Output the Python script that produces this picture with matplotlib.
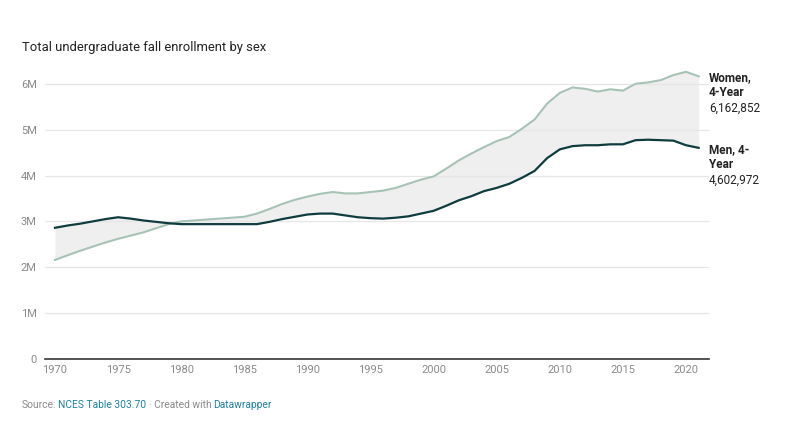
import matplotlib
matplotlib.use("Agg")
import matplotlib.pyplot as plt
from matplotlib.ticker import FuncFormatter

plt.rcParams['font.family'] = ['Roboto', 'DejaVu Sans']

years = list(range(1970, 2022))

# millions
women = [2.16, 2.26, 2.36, 2.45, 2.54, 2.62, 2.69, 2.76, 2.85, 2.94,
         3.00, 3.02, 3.04, 3.06, 3.08, 3.10, 3.17, 3.27, 3.38, 3.47,
         3.54, 3.60, 3.64, 3.61, 3.61, 3.64, 3.67, 3.73, 3.82, 3.91,
         3.98, 4.15, 4.33, 4.48, 4.62, 4.75, 4.84, 5.02, 5.22, 5.57,
         5.80, 5.92, 5.89, 5.83, 5.88, 5.85, 6.00, 6.03, 6.08, 6.19,
         6.26, 6.162852]
men = [2.86, 2.91, 2.95, 3.00, 3.05, 3.09, 3.06, 3.02, 2.99, 2.96,
       2.94, 2.94, 2.94, 2.94, 2.94, 2.94, 2.94, 2.99, 3.05, 3.10,
       3.15, 3.17, 3.17, 3.13, 3.09, 3.07, 3.06, 3.08, 3.11, 3.17,
       3.23, 3.34, 3.46, 3.55, 3.66, 3.73, 3.82, 3.95, 4.10, 4.38,
       4.57, 4.64, 4.66, 4.66, 4.68, 4.68, 4.77, 4.78, 4.77, 4.76,
       4.66, 4.602972]

women = [v * 1e6 for v in women]
men = [v * 1e6 for v in men]

xticks = list(range(1970, 2021, 5))
yticks = [0, 1e6, 2e6, 3e6, 4e6, 5e6, 6e6]

c_women = '#a7c3b6'
c_men = '#0f3d3f'
c_grey = '#8a8a8a'
c_link = '#1d81a2'

fig = plt.figure(figsize=(8, 4.42), dpi=100)
ax = fig.add_axes([45 / 800, 83 / 442, 664 / 800, 289 / 442])

ax.fill_between(years, women, men, color='#efefef', linewidth=0, zorder=1)
ax.plot(years, women, color=c_women, linewidth=1.5, zorder=3)
ax.plot(years, men, color=c_men, linewidth=1.6, zorder=4)

ax.set_xlim(1969.21, 2021.82)
ax.set_ylim(0, 6.3e6)
ax.set_xticks(xticks)
ax.set_yticks(yticks)
ax.yaxis.set_major_formatter(FuncFormatter(lambda v, p: '0' if v == 0 else f'{int(v / 1e6)}M'))

ax.grid(axis='y', color='#e6e6e6', linewidth=0.9, zorder=0)
for s in ['top', 'right', 'left']:
    ax.spines[s].set_visible(False)
ax.spines['bottom'].set_color('#333333')
ax.spines['bottom'].set_linewidth(1.2)
ax.spines['bottom'].set_zorder(5)
ax.tick_params(axis='both', length=0, labelsize=8, labelcolor=c_grey)
ax.tick_params(axis='y', pad=6)
ax.tick_params(axis='x', pad=4)

# end labels
lx = 709 / 800
fig.text(lx, 1 - 78 / 442, 'Women,', fontsize=8.5, fontweight='bold', color='#222222', va='center')
fig.text(lx, 1 - 93 / 442, '4-Year', fontsize=8.5, fontweight='bold', color='#222222', va='center')
fig.text(lx, 1 - 108 / 442, '6,162,852', fontsize=8.5, color='#222222', va='center')
fig.text(lx, 1 - 150 / 442, 'Men, 4-', fontsize=8.5, fontweight='bold', color='#222222', va='center')
fig.text(lx, 1 - 165 / 442, 'Year', fontsize=8.5, fontweight='bold', color='#222222', va='center')
fig.text(lx, 1 - 180 / 442, '4,602,972', fontsize=8.5, color='#222222', va='center')

fig.text(22 / 800, 1 - 47 / 442, 'Total undergraduate fall enrollment by sex',
         fontsize=9.4, color='#222222', va='center')

# source line
y_src = 1 - 405 / 442
parts = [('Source:', c_grey, 2), ('NCES Table 303.70', c_link, 2), ('· Created with', c_grey, 2), ('Datawrapper', c_link, 0)]
x_src = 22 / 800
renderer = fig.canvas.get_renderer()
for txt, col, gap in parts:
    t = fig.text(x_src, y_src, txt, fontsize=7.4, color=col, va='center')
    bb = t.get_window_extent(renderer=renderer)
    x_src += (bb.width + gap) / fig.bbox.width

fig.savefig('out.png', dpi=100)
